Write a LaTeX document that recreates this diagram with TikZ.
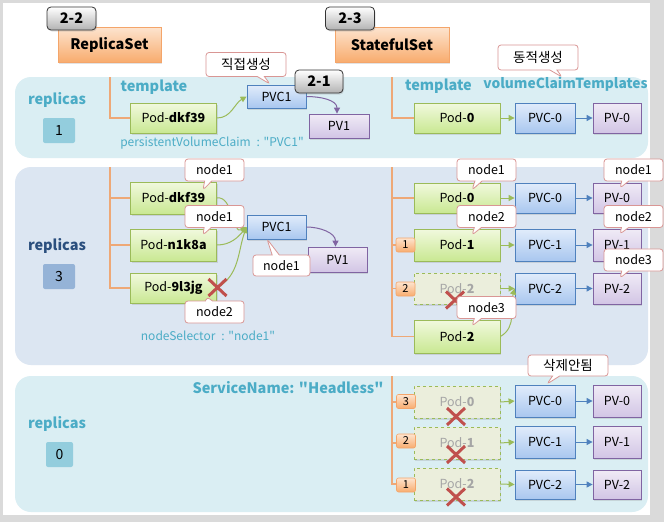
\documentclass[tikz,border=0pt]{standalone}
\usepackage{fontspec}
\setmainfont{Noto Sans CJK KR}[Ligatures=TeXOff]
\usetikzlibrary{arrows.meta,shapes.callouts,shapes.misc,calc,shadows}
\definecolor{outerg}{HTML}{DADADA}
\definecolor{panA}{HTML}{DAEEF3}
\definecolor{panB}{HTML}{DCE6F2}
\definecolor{podb}{HTML}{9BBB59}
\definecolor{podt}{HTML}{F1F9DE}
\definecolor{podbt}{HTML}{C9E892}
\definecolor{ghostf}{HTML}{EBEEDC}
\definecolor{ghostt}{HTML}{A6A6A6}
\definecolor{pvcb}{HTML}{4F81BD}
\definecolor{pvct}{HTML}{E1ECFB}
\definecolor{pvcbt}{HTML}{A9C7EF}
\definecolor{pvb}{HTML}{8064A2}
\definecolor{pvt}{HTML}{F0EBF6}
\definecolor{pvbt}{HTML}{D2C5E5}
\definecolor{hdrb}{HTML}{F4A56A}
\definecolor{hdrt}{HTML}{FDE4CF}
\definecolor{hdrbt}{HTML}{F8AC6E}
\definecolor{calb}{HTML}{D99694}
\definecolor{tealc}{HTML}{4BACC6}
\definecolor{darkb}{HTML}{2B4F7E}
\definecolor{numA}{HTML}{93CDDD}
\definecolor{numB}{HTML}{95B3D7}
\definecolor{oline}{HTML}{EEA877}
\definecolor{redx}{HTML}{C0504D}
\definecolor{bluea}{HTML}{4F81BD}
\definecolor{purplea}{HTML}{8064A2}
\definecolor{greena}{HTML}{9BBB59}
\begin{document}
\begin{tikzpicture}[x=1pt,y=-1pt,
  shd/.style={drop shadow={opacity=0.22,shadow xshift=1pt,shadow yshift=-1.5pt}},
  box/.style={draw, line width=0.8pt, minimum height=30, inner sep=0, font=\fontsize{12.5}{14}\selectfont, shd},
  pod/.style={box, draw=podb, top color=podt, bottom color=podbt, minimum width=86},
  ghost/.style={box, draw=podb, dashed, fill=ghostf, text=ghostt, minimum width=86},
  pvc/.style={box, draw=pvcb, top color=pvct, bottom color=pvcbt, minimum width=60},
  pv/.style={box, draw=pvb, top color=pvt, bottom color=pvbt, minimum width=48},
  hdr/.style={draw=hdrb, line width=0.8pt, top color=hdrt, bottom color=hdrbt, minimum height=35, inner sep=0, font=\bfseries\fontsize{14.5}{16}\selectfont, shd},
  tagbox/.style={draw=black!80, line width=0.8pt, rounded corners=4, top color=white, bottom color=black!30, font=\bfseries\fontsize{14.5}{16}\selectfont, minimum width=49, minimum height=23, inner sep=0, shd},
  callbox/.style={rectangle callout, draw=calb, line width=0.8pt, fill=white, rounded corners=3, font=\fontsize{12.5}{14}\selectfont, minimum width=59, minimum height=22, inner sep=0},
  badge/.style={draw=hdrb, line width=0.6pt, top color=hdrt, bottom color=hdrbt, rounded corners=2, minimum width=19, minimum height=14, inner sep=0, font=\fontsize{11}{12}\selectfont},
  numbox/.style={rounded corners=2, minimum width=32, minimum height=25, inner sep=0, font=\fontsize{14}{16}\selectfont},
  tealtxt/.style={text=tealc, inner sep=0, font=\bfseries\fontsize{14.5}{16}\selectfont},
  notetxt/.style={text=tealc, inner sep=0, font=\fontsize{12}{14}\selectfont},
  oln/.style={draw=oline, line width=1.3pt},
  garrow/.style={draw=greena, line width=1pt, -{Triangle[length=6pt,width=6pt]}},
  barrow/.style={draw=bluea, line width=1pt, -{Triangle[length=6pt,width=6pt]}},
  parrow/.style={draw=purplea, line width=1pt, -{Triangle[length=6pt,width=6pt]}},
  xmark/.style={cross out, draw=redx, line width=3pt, minimum width=15, minimum height=14, inner sep=0}
]
\useasboundingbox (0,0) rectangle (664,522);
\fill[outerg] (0,0) rectangle (664,522);
\fill[white] (3,3) rectangle (650,515);
\fill[panA, rounded corners=16] (15,77) rectangle (648,158);
\fill[panB, rounded corners=16] (15,167) rectangle (648,365);
\fill[panA, rounded corners=16] (15,376) rectangle (648,512);

% headers
\node[hdr, minimum width=103] (rs) at (109.5,44.5) {ReplicaSet};
\node[hdr, minimum width=114] (ss) at (392,44.5) {StatefulSet};
\node[tagbox] (t22) at (71.5,18.5) {2-2};
\node[tagbox] (t23) at (350,18.5) {2-3};

% ---------- top panel ----------
\node[tealtxt] (repA) at (57,100) {replicas};
\node[numbox, fill=numA] (nA) at (59,130.5) {1};
\node[tealtxt] (tmplA) at (154,87) {template};
\node[tealtxt] (tmplB) at (438.5,86) {template};
\node[tealtxt, font=\bfseries\fontsize{13.8}{16}\selectfont] (vct) at (565.5,84) {volumeClaimTemplates};
\node[notetxt] (pvcnote) at (212,143) {persistentVolumeClaim\enspace: "PVC1"};

\coordinate (lt) at (110,77);
\coordinate (rt) at (392,77);
\node[pod] (pod1) at (173.5,118) {Pod-\textbf{dkf39}};
\node[pvc, minimum width=59, minimum height=23] (pvc1a) at (276.5,96.5) {PVC1};
\node[pv, minimum width=60, minimum height=24] (pv1a) at (339,126) {PV1};
\node[pod] (s0) at (457,118) {Pod-\textbf{0}};
\node[pvc] (c0) at (545,118) {PVC-0};
\node[pv] (v0) at (617,118) {PV-0};
\draw[oln] (lt) -- (lt |- pod1.west) -- (pod1.west);
\draw[oln] (rt) -- (rt |- s0.west) -- (s0.west);
\draw[garrow] (pod1.east) to[out=0,in=-150] (pvc1a.west);
\draw[parrow] (pvc1a.east) to[out=0,in=90] ($(pv1a.north)+(-2,0)$);
\draw[garrow] (s0.east) -- (c0.west);
\draw[barrow] (c0.east) -- (v0.west);

% ---------- middle panel ----------
\node[text=darkb, inner sep=0, font=\bfseries\fontsize{14.5}{16}\selectfont] (repB) at (57,246) {replicas};
\node[numbox, fill=numB] (nB) at (59,276.5) {3};
\node[notetxt] (nsel) at (208,336) {nodeSelector\enspace: "node1"};
\coordinate (lm) at (110,167);
\coordinate (rm) at (392,167);
\node[pod, minimum height=32] (mp1) at (173.5,198) {Pod-\textbf{dkf39}};
\node[pod, minimum height=32] (mp2) at (173.5,245) {Pod-\textbf{n1k8a}};
\node[pod] (mp3) at (173.5,288) {Pod-\textbf{9l3jg}};
\node[pvc, minimum width=59, minimum height=24] (mpvc) at (276.5,227) {PVC1};
\node[pv, minimum width=59, minimum height=25] (mpv) at (337.5,259.5) {PV1};
\draw[oln] (lm) -- (lm |- mp3.west) -- (mp3.west);
\draw[oln] (lm |- mp1.west) -- (mp1.west);
\draw[oln] (lm |- mp2.west) -- (mp2.west);
\draw[garrow] (mp1.east) to[out=10,in=-150] (mpvc.west);
\draw[garrow] (mp2.east) to[out=0,in=-130] (mpvc.west);
\draw[garrow] (mp3.east) to[out=30,in=-110] (mpvc.west);
\draw[parrow] (mpvc.east) to[out=0,in=90] ($(mpv.north)+(-2,0)$);

\node[pod] (ms0) at (457,198) {Pod-\textbf{0}};
\node[pod, minimum height=32] (ms1) at (457,245) {Pod-\textbf{1}};
\node[ghost, minimum height=31] (ms2g) at (457,288.5) {Pod-\textbf{2}};
\node[pod, minimum height=33] (ms2) at (457,336.5) {Pod-\textbf{2}};
\node[pvc] (mc0) at (545,198) {PVC-0};
\node[pvc, minimum height=32] (mc1) at (545,245) {PVC-1};
\node[pvc, minimum height=31] (mc2) at (545,288.5) {PVC-2};
\node[pv] (mv0) at (617,198) {PV-0};
\node[pv, minimum height=32] (mv1) at (617,245) {PV-1};
\node[pv, minimum height=31] (mv2) at (617,288.5) {PV-2};
\draw[oln] (rm) -- (rm |- ms2.west) -- (ms2.west);
\draw[oln] (rm |- ms0.west) -- (ms0.west);
\draw[oln] (rm |- ms1.west) -- (ms1.west);
\draw[oln] (rm |- ms2g.west) -- (ms2g.west);
\draw[garrow] (ms0.east) -- (mc0.west);
\draw[garrow] (ms1.east) -- (mc1.west);
\draw[garrow] (ms2g.east) -- (mc2.west);
\draw[garrow] (ms2.east) to[out=30,in=-105] (mc2.west);
\draw[barrow] (mc0.east) -- (mv0.west);
\draw[barrow] (mc1.east) -- (mv1.west);
\draw[barrow] (mc2.east) -- (mv2.west);
\node[badge] (bm1) at (405.5,245) {1};
\node[badge] (bm2) at (405.5,289) {2};
\node[xmark] (xm1) at (217.5,287.5) {};
\node[xmark] (xm2) at (455,300) {};

% ---------- bottom panel ----------
\node[tealtxt] (svc) at (288,388) {ServiceName: "Headless"};
\node[tealtxt] (repC) at (57,424) {replicas};
\node[numbox, fill=numA, minimum width=27] (nC) at (59.5,454.5) {0};
\coordinate (rb) at (392,376);
\node[ghost, minimum height=32] (bs0) at (457,402) {Pod-\textbf{0}};
\node[ghost, minimum height=32] (bs1) at (457,443) {Pod-\textbf{1}};
\node[ghost, minimum height=32] (bs2) at (457,484) {Pod-\textbf{2}};
\node[pvc, minimum height=32] (bc0) at (545,401) {PVC-0};
\node[pvc, minimum height=32] (bc1) at (545,442) {PVC-1};
\node[pvc, minimum height=29] (bc2) at (545,484.5) {PVC-2};
\node[pv, minimum height=32] (bv0) at (617,401) {PV-0};
\node[pv, minimum height=32] (bv1) at (617,442) {PV-1};
\node[pv, minimum height=29] (bv2) at (617,484.5) {PV-2};
\draw[oln] (rb) -- (rb |- bs2.west) -- (bs2.west);
\draw[oln] (rb |- bs0.west) -- (bs0.west);
\draw[oln] (rb |- bs1.west) -- (bs1.west);
\draw[garrow] (bs0.east) -- (bc0.west);
\draw[garrow] (bs1.east) -- (bc1.west);
\draw[garrow] (bs2.east) -- (bc2.west);
\draw[barrow] (bc0.east) -- (bv0.west);
\draw[barrow] (bc1.east) -- (bv1.west);
\draw[barrow] (bc2.east) -- (bv2.west);
\node[badge] (bb3) at (406,401.5) {3};
\node[badge] (bb2) at (406,441) {2};
\node[badge] (bb1) at (406,485) {1};
\node[xmark] (xb0) at (456,416.5) {};
\node[xmark] (xb1) at (456,454.5) {};
\node[xmark] (xb2) at (456,497) {};

% ---------- callouts ----------
\node[callbox, font=\fontsize{13.5}{15}\selectfont, minimum width=80, minimum height=24, callout absolute pointer={(270,84)}] (cd) at (246,64.5) {직접생성};
\node[callbox, font=\fontsize{13.5}{15}\selectfont, minimum width=80, minimum height=25, callout absolute pointer={(562,77)}] (cs) at (538,57.5) {동적생성};
\node[callbox, font=\fontsize{13.5}{15}\selectfont, minimum width=80, minimum height=21, callout absolute pointer={(547,384)}] (cn) at (568,365.5) {삭제안됨};
\node[callbox, callout absolute pointer={(203,190)}] (k1) at (214.5,170) {node1};
\node[callbox, callout absolute pointer={(203,235)}] (k2) at (214.5,216.5) {node1};
\node[callbox, callout absolute pointer={(207,297)}] (k3) at (214.5,312) {node2};
\node[callbox, minimum width=57, minimum height=21, callout absolute pointer={(267,239)}] (k4) at (281.5,265.5) {node1};
\node[callbox, callout absolute pointer={(472,190)}] (k5) at (486.5,170) {node1};
\node[callbox, callout absolute pointer={(472,235)}] (k6) at (486.5,216.5) {node2};
\node[callbox, callout absolute pointer={(472,326)}] (k7) at (486.5,307.5) {node3};
\node[callbox, callout absolute pointer={(620,188)}] (k8) at (633.5,170) {node1};
\node[callbox, callout absolute pointer={(620,234)}] (k9) at (633.5,216.5) {node2};
\node[callbox, callout absolute pointer={(620,278)}] (k10) at (633.5,260) {node3};

\node[tagbox, minimum width=48] (t21) at (319,81.5) {2-1};
\end{tikzpicture}
\end{document}
